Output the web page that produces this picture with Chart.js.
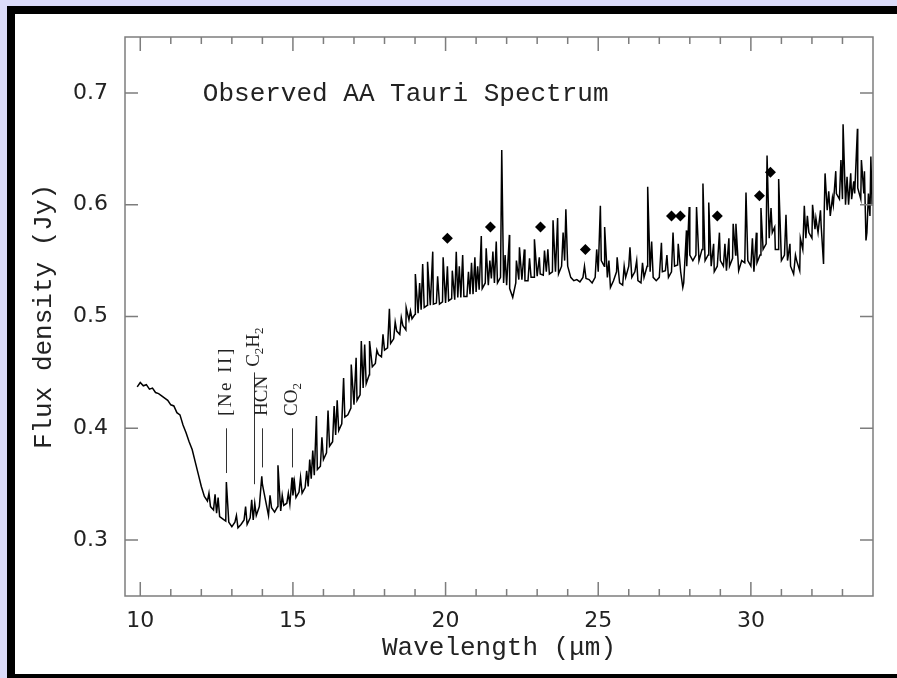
<!DOCTYPE html>
<html>
<head>
<meta charset="utf-8">
<script src="https://cdn.jsdelivr.net/npm/chart.js@4.4.1/dist/chart.umd.min.js"></script>
<style>
  html, body { margin: 0; padding: 0; }
  body { width: 897px; height: 678px; background: #dcdcfa; overflow: hidden; position: relative; }
  #frame {
    position: absolute; left: 7px; top: 6px; width: 900px; height: 672px;
    box-sizing: border-box; background: #fff;
    border-left: 8px solid #000; border-top: 8px solid #000; border-bottom: 4px solid #000;
  }
  #spectrum { position: absolute; left: 0; top: 0; }
</style>
</head>
<body>
<div id="frame"></div>
<canvas id="spectrum" width="897" height="678"></canvas>
<script>
// continuum samples: wavelength (micron) and flux density (Jy)
const wavelength = [
   9.9, 10.0, 10.1, 10.2, 10.3, 10.4, 10.5, 10.6, 10.7, 10.8,
  10.9, 11.0, 11.1, 11.2, 11.3, 11.4, 11.5, 11.6, 11.7, 11.8,
  11.9, 12.0, 12.1, 12.2, 12.3, 12.4, 12.5, 12.6, 12.7, 12.8,
  12.9, 13.0, 13.1, 13.2, 13.3, 13.4, 13.5, 13.6, 13.7, 13.8,
  13.9, 14.0, 14.1, 14.2, 14.3, 14.4, 14.5, 14.6, 14.7, 14.8,
  14.9, 15.0, 15.1, 15.2, 15.3, 15.4, 15.5, 15.6, 15.7, 15.8,
  15.9, 16.0, 16.1, 16.2, 16.3, 16.4, 16.5, 16.6, 16.7, 16.8,
  16.9, 17.0, 17.1, 17.2, 17.3, 17.4, 17.5, 17.6, 17.7, 17.8,
  17.9, 18.0, 18.1, 18.2, 18.3, 18.4, 18.5, 18.6, 18.7, 18.8,
  18.9, 19.0, 19.1, 19.2, 19.3, 19.4, 19.5, 19.6, 19.7, 19.8,
  19.9, 20.0, 20.1, 20.2, 20.3, 20.4, 20.5, 20.6, 20.7, 20.8,
  20.9, 21.0, 21.1, 21.2, 21.3, 21.4, 21.5, 21.6, 21.7, 21.8,
  21.9, 22.0, 22.1, 22.2, 22.3, 22.4, 22.5, 22.6, 22.7, 22.8,
  22.9, 23.0, 23.1, 23.2, 23.3, 23.4, 23.5, 23.6, 23.7, 23.8,
  23.9, 24.0, 24.1, 24.2, 24.3, 24.4, 24.5, 24.6, 24.7, 24.8,
  24.9, 25.0, 25.1, 25.2, 25.3, 25.4, 25.5, 25.6, 25.7, 25.8,
  25.9, 26.0, 26.1, 26.2, 26.3, 26.4, 26.5, 26.6, 26.7, 26.8,
  26.9, 27.0, 27.1, 27.2, 27.3, 27.4, 27.5, 27.6, 27.7, 27.8,
  27.9, 28.0, 28.1, 28.2, 28.3, 28.4, 28.5, 28.6, 28.7, 28.8,
  28.9, 29.0, 29.1, 29.2, 29.3, 29.4, 29.5, 29.6, 29.7, 29.8,
  29.9, 30.0, 30.1, 30.2, 30.3, 30.4, 30.5, 30.6, 30.7, 30.8,
  30.9, 31.0, 31.1, 31.2, 31.3, 31.4, 31.5, 31.6, 31.7, 31.8,
  31.9, 32.0, 32.1, 32.2, 32.3, 32.4, 32.5, 32.6, 32.7, 32.8,
  32.9, 33.0, 33.1, 33.2, 33.3, 33.4, 33.5, 33.6, 33.7, 33.8,
  33.9, 34.0
];

const flux = [
  0.437, 0.441, 0.438, 0.439, 0.435, 0.436, 0.432, 0.431, 0.429, 0.427,
  0.425, 0.421, 0.420, 0.414, 0.412, 0.403, 0.396, 0.388, 0.381, 0.370,
  0.359, 0.348, 0.339, 0.335, 0.330, 0.327, 0.324, 0.321, 0.319, 0.317,
  0.316, 0.312, 0.316, 0.311, 0.314, 0.318, 0.314, 0.320, 0.318, 0.322,
  0.330, 0.350, 0.336, 0.322, 0.329, 0.325, 0.330, 0.326, 0.331, 0.333,
  0.332, 0.340, 0.338, 0.343, 0.342, 0.347, 0.348, 0.355, 0.358, 0.363,
  0.366, 0.372, 0.378, 0.384, 0.388, 0.394, 0.398, 0.404, 0.410, 0.412,
  0.418, 0.421, 0.425, 0.430, 0.436, 0.440, 0.448, 0.455, 0.458, 0.466,
  0.464, 0.470, 0.472, 0.476, 0.480, 0.487, 0.484, 0.492, 0.488, 0.497,
  0.498, 0.502, 0.503, 0.506, 0.508, 0.510, 0.510, 0.511, 0.512, 0.511,
  0.513, 0.512, 0.514, 0.516, 0.515, 0.517, 0.517, 0.518, 0.518, 0.520,
  0.520, 0.522, 0.524, 0.525, 0.530, 0.528, 0.534, 0.530, 0.530, 0.535,
  0.530, 0.528, 0.525, 0.517, 0.530, 0.533, 0.533, 0.532, 0.532, 0.535,
  0.535, 0.536, 0.538, 0.537, 0.540, 0.538, 0.540, 0.540, 0.538, 0.545,
  0.550, 0.545, 0.535, 0.532, 0.533, 0.531, 0.535, 0.534, 0.533, 0.530,
  0.535, 0.540, 0.550, 0.545, 0.535, 0.526, 0.532, 0.540, 0.530, 0.528,
  0.535, 0.545, 0.535, 0.540, 0.532, 0.530, 0.535, 0.545, 0.540, 0.535,
  0.532, 0.535, 0.540, 0.541, 0.535, 0.540, 0.545, 0.546, 0.540, 0.530,
  0.545, 0.555, 0.550, 0.555, 0.550, 0.560, 0.550, 0.555, 0.545, 0.540,
  0.545, 0.550, 0.545, 0.541, 0.545, 0.552, 0.555, 0.541, 0.550, 0.548,
  0.550, 0.545, 0.540, 0.548, 0.555, 0.560, 0.565, 0.570, 0.575, 0.560,
  0.560, 0.550, 0.555, 0.550, 0.545, 0.538, 0.550, 0.541, 0.560, 0.570,
  0.575, 0.570, 0.578, 0.575, 0.582, 0.590, 0.595, 0.590, 0.600, 0.610,
  0.605, 0.605, 0.600, 0.600, 0.605, 0.610, 0.615, 0.605, 0.610, 0.575,
  0.590, 0.600
];

// narrow emission lines on top of the continuum
const lineWave = [
  12.25, 12.45, 12.55, 12.82, 13.15, 13.45, 13.65, 13.75, 13.98, 14.25,
  14.51, 14.65, 14.85, 14.97, 15.05, 15.25, 15.45, 15.55, 15.65, 15.77,
  15.95, 16.15, 16.35, 16.45, 16.66, 16.91, 17.07, 17.24, 17.35, 17.51,
  17.75, 17.95, 18.16, 18.35, 18.55, 18.71, 18.85, 19.01, 19.15, 19.25,
  19.41, 19.58, 19.74, 19.92, 20.06, 20.22, 20.35, 20.45, 20.56, 20.75,
  20.85, 20.96, 21.05, 21.17, 21.33, 21.45, 21.55, 21.66, 21.84, 21.95,
  22.09, 22.32, 22.42, 22.58, 22.75, 22.91, 23.07, 23.24, 23.35, 23.52,
  23.67, 23.85, 23.94, 24.55, 24.95, 25.07, 25.21, 25.35, 25.62, 25.85,
  26.04, 26.26, 26.45, 26.62, 26.75, 27.07, 27.25, 27.45, 27.62, 27.77,
  27.89, 27.98, 28.22, 28.43, 28.62, 28.78, 28.97, 29.15, 29.28, 29.42,
  29.51, 29.84, 30.05, 30.18, 30.33, 30.53, 30.66, 30.78, 30.91, 31.15,
  31.28, 31.46, 31.62, 31.75, 31.85, 32.02, 32.13, 32.28, 32.38, 32.43,
  32.55, 32.67, 32.78, 32.95, 33.02, 33.15, 33.27, 33.37, 33.49, 33.62,
  33.72, 33.77, 33.85, 33.93, 33.97
];

const lineFlux = [
  0.342, 0.341, 0.338, 0.352, 0.322, 0.330, 0.336, 0.333, 0.357, 0.340,
  0.367, 0.340, 0.342, 0.356, 0.352, 0.356, 0.362, 0.372, 0.380, 0.411,
  0.392, 0.416, 0.420, 0.425, 0.445, 0.457, 0.463, 0.478, 0.475, 0.478,
  0.470, 0.484, 0.507, 0.495, 0.499, 0.508, 0.505, 0.538, 0.530, 0.547,
  0.549, 0.558, 0.536, 0.553, 0.545, 0.541, 0.558, 0.545, 0.555, 0.540,
  0.548, 0.553, 0.545, 0.572, 0.561, 0.550, 0.558, 0.567, 0.649, 0.555,
  0.573, 0.550, 0.562, 0.560, 0.552, 0.569, 0.553, 0.559, 0.560, 0.586,
  0.588, 0.575, 0.596, 0.545, 0.560, 0.599, 0.580, 0.550, 0.553, 0.545,
  0.562, 0.550, 0.548, 0.616, 0.567, 0.566, 0.555, 0.575, 0.565, 0.526,
  0.577, 0.598, 0.598, 0.619, 0.602, 0.565, 0.575, 0.565, 0.570, 0.583,
  0.583, 0.611, 0.570, 0.575, 0.597, 0.644, 0.597, 0.580, 0.623, 0.591,
  0.565, 0.555, 0.570, 0.599, 0.590, 0.600, 0.588, 0.595, 0.547, 0.628,
  0.612, 0.606, 0.630, 0.640, 0.672, 0.625, 0.628, 0.621, 0.668, 0.640,
  0.630, 0.568, 0.610, 0.643, 0.600
];

// diamond markers
const markerWave = [20.06, 21.47, 23.11, 24.58, 27.40, 27.69, 28.90, 30.28, 30.64];
const markerFlux = [0.570, 0.580, 0.580, 0.560, 0.590, 0.590, 0.590, 0.608, 0.629];

// identified features: marker line from low to high, label starts at labelAt
const featureNames = ['[Ne II]', 'C2H2', 'HCN', 'CO2'];
const featureWave  = [12.82, 13.71, 13.98, 14.97];
const featureLow   = [0.360, 0.350, 0.365, 0.365];
const featureHigh  = [0.400, 0.450, 0.400, 0.400];
const featureLabelAt = [0.411, 0.455, 0.411, 0.411];

const xTickValues = [10, 15, 20, 25, 30];
const yTickValues = [0.3, 0.4, 0.5, 0.6, 0.7];

const plotTitle = 'Observed AA Tauri Spectrum';

const axisColor = '#7d7d7d';
const textColor = '#222';
const monoFont = '"Liberation Mono", "DejaVu Sans Mono", monospace';
const labelSpacing = { '[Ne II]': 2.5 };

function drawFormula(ctx, text, x, y, spacing) {
    // digits after a letter are written as subscripts
    let pos = 0;
    for (let i = 0; i < text.length; i++) {
        const ch = text[i];
        const sub = /[0-9]/.test(ch) && i > 0 && /[A-Za-z]/.test(text[i - 1]);
        ctx.font = sub ? '13px "Liberation Serif"' : '19px "Liberation Serif"';
        ctx.fillText(ch, x + pos, y + (sub ? 5 : 0));
        pos += ctx.measureText(ch).width + spacing;
    }
}

const framePlugin = {
    id: 'frameAndTicks',
    afterDatasetsDraw(chart) {
        const ctx = chart.ctx;
        const xs = chart.scales.x;
        const ys = chart.scales.y;
        const { left, right, top, bottom } = chart.chartArea;

        ctx.save();
        ctx.strokeStyle = axisColor;
        ctx.lineWidth = 1.5;
        ctx.strokeRect(left, top, right - left, bottom - top);

        ctx.beginPath();
        for (let v = 10; v <= 33; v++) {
            const px = xs.getPixelForValue(v);
            const len = v % 5 === 0 ? 14 : 7;
            ctx.moveTo(px, bottom); ctx.lineTo(px, bottom - len);
            ctx.moveTo(px, top);    ctx.lineTo(px, top + len);
        }
        yTickValues.forEach(v => {
            const py = ys.getPixelForValue(v);
            ctx.moveTo(left, py);  ctx.lineTo(left + 13, py);
            ctx.moveTo(right, py); ctx.lineTo(right - 13, py);
        });
        ctx.stroke();

        // feature marks and labels
        ctx.strokeStyle = '#333';
        ctx.lineWidth = 1;
        ctx.fillStyle = textColor;
        featureNames.forEach((name, i) => {
            const px = Math.round(xs.getPixelForValue(featureWave[i])) + 0.5;
            ctx.beginPath();
            ctx.moveTo(px, ys.getPixelForValue(featureLow[i]));
            ctx.lineTo(px, ys.getPixelForValue(featureHigh[i]));
            ctx.stroke();

            ctx.save();
            ctx.translate(px, ys.getPixelForValue(featureLabelAt[i]));
            ctx.rotate(-Math.PI / 2);
            ctx.textAlign = 'left';
            ctx.textBaseline = 'middle';
            drawFormula(ctx, name, 0, 0, labelSpacing[name] || 0);
            ctx.restore();
        });

        ctx.font = '26px ' + monoFont;
        ctx.textAlign = 'left';
        ctx.textBaseline = 'alphabetic';
        ctx.fillText(plotTitle, xs.getPixelForValue(12.05), ys.getPixelForValue(0.693));
        ctx.restore();
    }
};

const spectrumPoints = wavelength.map((w, i) => ({ x: w, y: flux[i] }))
    .concat(lineWave.map((w, i) => ({ x: w, y: lineFlux[i] })))
    .sort((a, b) => a.x - b.x);

new Chart(document.getElementById('spectrum'), {
    type: 'line',
    plugins: [framePlugin],
    data: {
        datasets: [{
            data: spectrumPoints,
            borderColor: '#000',
            borderWidth: 1.5,
            pointRadius: 0,
            tension: 0,
            fill: false
        }, {
            type: 'scatter',
            data: markerWave.map((w, i) => ({ x: w, y: markerFlux[i] })),
            pointStyle: 'rectRot',
            pointRadius: 5.5,
            backgroundColor: '#000',
            borderColor: '#000',
            borderWidth: 0
        }]
    },
    options: {
        responsive: false,
        animation: false,
        devicePixelRatio: 1,
        layout: { padding: { left: 0, top: 37, right: 24, bottom: 0 } },
        plugins: {
            legend: { display: false },
            tooltip: { enabled: false }
        },
        scales: {
            x: {
                type: 'linear',
                min: 9.5,
                max: 34,
                grid: { display: false, drawTicks: false },
                border: { display: false },
                afterBuildTicks: s => { s.ticks = xTickValues.map(v => ({ value: v })); },
                afterFit: s => { s.height = 82; },
                ticks: {
                    color: textColor,
                    font: { family: 'DejaVu Sans', size: 22 },
                    padding: 12,
                    maxRotation: 0,
                    autoSkip: false,
                    callback: v => String(v)
                },
                title: {
                    display: true,
                    text: 'Wavelength (μm)',
                    color: textColor,
                    font: { family: monoFont, size: 26 },
                    padding: { top: 0, bottom: 14 }
                }
            },
            y: {
                type: 'linear',
                min: 0.25,
                max: 0.75,
                grid: { display: false, drawTicks: false },
                border: { display: false },
                afterBuildTicks: s => { s.ticks = yTickValues.map(v => ({ value: v })); },
                afterFit: s => { s.width = 125; },
                ticks: {
                    color: textColor,
                    font: { family: 'DejaVu Sans', size: 22 },
                    padding: 17,
                    autoSkip: false,
                    callback: v => v.toFixed(1)
                },
                title: {
                    display: true,
                    text: 'Flux density (Jy)',
                    color: textColor,
                    font: { family: monoFont, size: 26 },
                    padding: { top: 29, bottom: 0 }
                }
            }
        }
    }
});
</script>
</body>
</html>
